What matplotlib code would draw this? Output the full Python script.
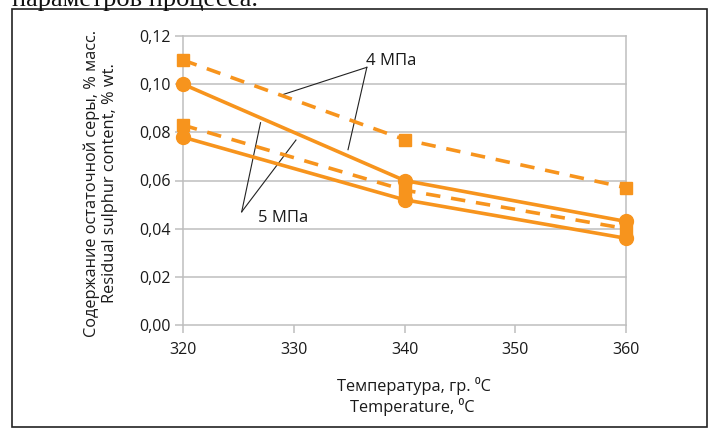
import matplotlib
matplotlib.use("Agg")
import matplotlib.pyplot as plt
from matplotlib.patches import Rectangle

temps = [320, 340, 360]
dashed_4mpa = [0.110, 0.077, 0.057]
dashed_5mpa = [0.083, 0.056, 0.040]
solid_4mpa = [0.100, 0.060, 0.043]
solid_5mpa = [0.078, 0.052, 0.036]
x_ticks = [320, 330, 340, 350, 360]
y_ticks = [0.00, 0.02, 0.04, 0.06, 0.08, 0.10, 0.12]
y_tick_labels = ["0,00", "0,02", "0,04", "0,06", "0,08", "0,10", "0,12"]

plt.rcParams['font.family'] = ['Open Sans', 'DejaVu Sans']
orange = '#F7941D'
grid_c = '#BFBFBF'
txt_c = '#1a1a1a'

fig = plt.figure(figsize=(7.10, 4.28), dpi=100)
ax = fig.add_axes([183/710, 1-325/428, (626-183)/710, (325-36)/428])

for yv in y_ticks[1:]:
    ax.axhline(yv, color=grid_c, lw=1.1, zorder=0)

lw = 2.6
ax.plot(temps, dashed_4mpa, color=orange, lw=lw, ls=(0, (4, 3)), marker='s', ms=8.5, mec=orange, zorder=3)
ax.plot(temps, dashed_5mpa, color=orange, lw=lw, ls=(0, (4, 3)), marker='s', ms=8.5, mec=orange, zorder=3)
ax.plot(temps, solid_4mpa, color=orange, lw=lw, marker='o', ms=10, mec=orange, zorder=3)
ax.plot(temps, solid_5mpa, color=orange, lw=lw, marker='o', ms=10, mec=orange, zorder=3)

ax.set_xlim(320, 360)
ax.set_ylim(0, 0.12)
ax.set_xticks(x_ticks)
ax.set_xticklabels([str(t) for t in x_ticks])
ax.set_yticks(y_ticks)
ax.set_yticklabels(y_tick_labels)
for s in ['left', 'bottom', 'right']:
    ax.spines[s].set_color(grid_c)
    ax.spines[s].set_linewidth(1.1)
ax.spines['top'].set_visible(False)
ax.tick_params(axis='both', colors=grid_c, labelcolor=txt_c, length=6, width=1.1, labelsize=11.5)
ax.tick_params(axis='y', pad=3)
ax.tick_params(axis='x', pad=6)
ax.tick_params(right=False)
for l in ax.lines:
    l.set_clip_on(False)

# annotations
ax.text(338.8, 0.1095, "4 МПа", fontsize=12, ha='center', va='center', color=txt_c)
ax.plot([336.6, 328.9], [0.107, 0.0955], color='#222222', lw=0.8, clip_on=False)
ax.plot([336.6, 334.9], [0.107, 0.0728], color='#222222', lw=0.8, clip_on=False)
ax.text(329.0, 0.0445, "5 МПа", fontsize=12, ha='center', va='center', color=txt_c)
ax.plot([325.3, 327.0], [0.0470, 0.0840], color='#222222', lw=0.8, clip_on=False)
ax.plot([325.3, 330.2], [0.0470, 0.0768], color='#222222', lw=0.8, clip_on=False)

# axis titles
fig.text(92/710, 1-183/428, "Содержание остаточной серы, % масс.", rotation=90,
         ha='center', va='center', fontsize=11.8, color=txt_c)
fig.text(110/710, 1-183/428, "Residual sulphur content, % wt.", rotation=90,
         ha='center', va='center', fontsize=11.8, color=txt_c)
fig.text(414/710, 1-386/428, "Температура, гр. ⁰C", ha='center', va='center',
         fontsize=11.8, color=txt_c)
fig.text(412/710, 1-407/428, "Temperature, ⁰C", ha='center', va='center',
         fontsize=11.8, color=txt_c)

# frame and cropped caption
fig.patches.append(Rectangle((12/710, 1-427/428), (707-12)/710, (427-9)/428,
                             transform=fig.transFigure, fill=False, ec='#222222', lw=1.2))
fig.text(12/710, 1-6/428, "параметров процесса.", family='Liberation Serif',
         fontsize=19, ha='left', va='baseline', color='#111111')

fig.savefig("out.png", dpi=100)
